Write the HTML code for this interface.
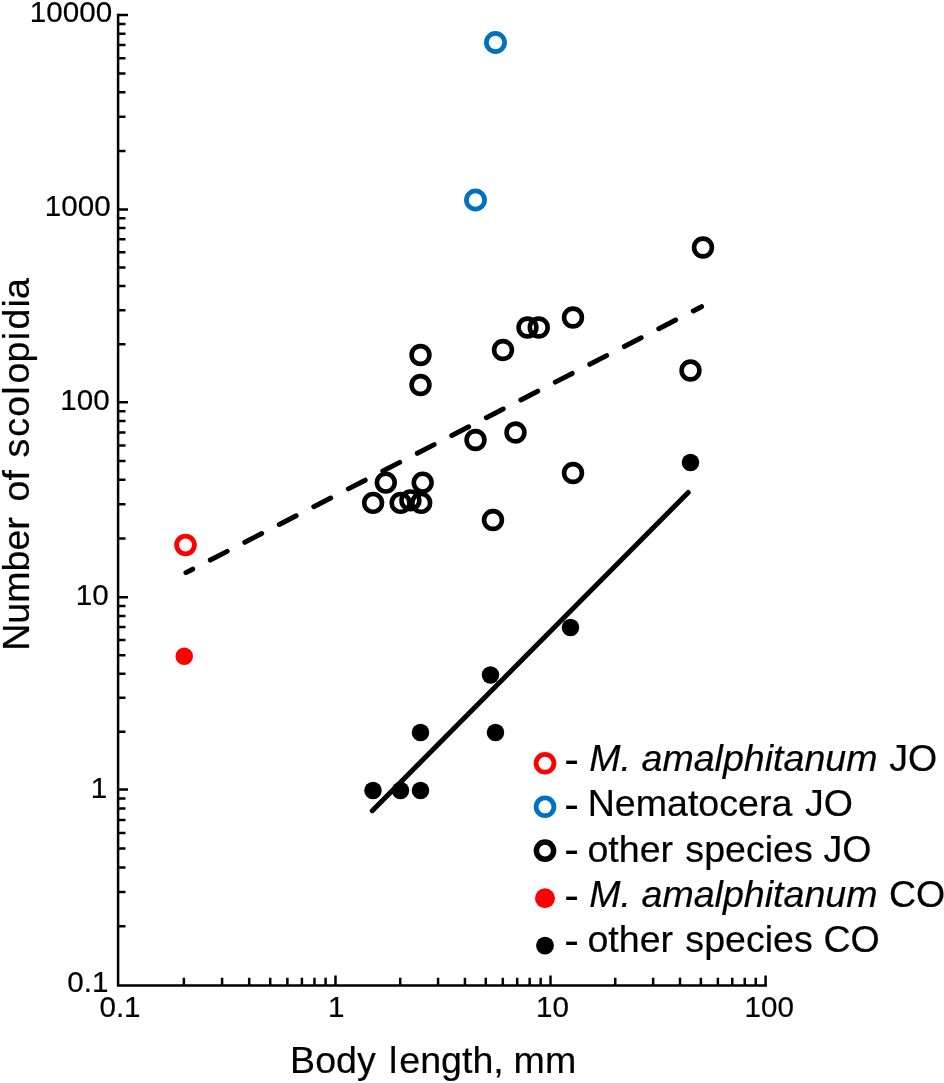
<!DOCTYPE html>
<html lang="en"><head><meta charset="utf-8"><title>Number of scolopidia vs body length</title>
<style>html,body{margin:0;padding:0;background:#fff}svg{display:block;will-change:transform}text{font-family:"Liberation Sans",Arial,Helvetica,sans-serif;fill:#000;stroke:#000;stroke-width:0.2;stroke-linejoin:round}.it{font-style:italic}</style></head><body>
<svg width="944" height="1083" viewBox="0 0 944 1083">
<rect width="944" height="1083" fill="#fff"/>
<g stroke="#000" stroke-width="2.5" fill="none">
<path d="M118.1 13.75V985.6H766.9"/>
<path d="M118.1 926.32h7.4M118.1 891.88h7.4M118.1 867.44h7.4M118.1 848.48h7.4M118.1 832.99h7.4M118.1 819.90h7.4M118.1 808.56h7.4M118.1 798.55h7.4M118.1 789.60h9.9M118.1 731.71h7.4M118.1 697.85h7.4M118.1 673.82h7.4M118.1 655.19h7.4M118.1 639.96h7.4M118.1 627.09h7.4M118.1 615.94h7.4M118.1 606.10h7.4M118.1 597.30h9.9M118.1 538.57h7.4M118.1 504.21h7.4M118.1 479.84h7.4M118.1 460.93h7.4M118.1 445.48h7.4M118.1 432.42h7.4M118.1 421.11h7.4M118.1 411.13h7.4M118.1 402.20h9.9M118.1 344.16h7.4M118.1 310.21h7.4M118.1 286.12h7.4M118.1 267.44h7.4M118.1 252.17h7.4M118.1 239.27h7.4M118.1 228.08h7.4M118.1 218.22h7.4M118.1 209.40h9.9M118.1 150.88h7.4M118.1 116.65h7.4M118.1 92.36h7.4M118.1 73.52h7.4M118.1 58.13h7.4M118.1 45.11h7.4M118.1 33.84h7.4M118.1 23.90h7.4M118.1 15.00h9.9M183.89 985.6v-7.8M222.09 985.6v-7.8M249.19 985.6v-7.8M270.21 985.6v-7.8M287.38 985.6v-7.8M301.90 985.6v-7.8M314.48 985.6v-7.8M325.58 985.6v-7.8M335.50 985.6v-10M400.22 985.6v-7.8M438.08 985.6v-7.8M464.94 985.6v-7.8M485.78 985.6v-7.8M502.80 985.6v-7.8M517.20 985.6v-7.8M529.66 985.6v-7.8M540.66 985.6v-7.8M550.50 985.6v-10M615.25 985.6v-7.8M653.13 985.6v-7.8M680.00 985.6v-7.8M700.85 985.6v-7.8M717.88 985.6v-7.8M732.28 985.6v-7.8M744.75 985.6v-7.8M755.76 985.6v-7.8M765.60 985.6v-10"/>
</g>
<g font-size="29.6">
<text x="29.8" y="22.0">10000</text>
<text x="44.75" y="215.5">1000</text>
<text x="60.25" y="409.5">100</text>
<text x="75.75" y="604.5">10</text>
<text x="90.75" y="797.5">1</text>
<text x="67.35" y="992.0">0.1</text>
<text x="99.45" y="1016.6">0.1</text>
<text x="328.1" y="1016.6">1</text>
<text x="535.95" y="1016.6">10</text>
<text x="744.55" y="1016.6">100</text>
</g>
<text font-size="37.6" y="1072.8"><tspan x="290.10">Body</tspan> <tspan x="388.93">l</tspan><tspan x="399.30">ength,</tspan> <tspan x="513.60">mm</tspan></text>
<text font-size="37.6" transform="translate(29.0 650) rotate(-90)" y="0"><tspan x="-0.80">Number</tspan> <tspan x="148.50">of</tspan> <tspan x="192.40">s</tspan><tspan x="213.30">c</tspan><tspan x="233.30">o</tspan><tspan x="255.20">l</tspan><tspan x="266.40">o</tspan><tspan x="287.60">p</tspan><tspan x="309.70">i</tspan><tspan x="320.40">d</tspan><tspan x="342.60">i</tspan><tspan x="351.00">a</tspan></text>
<g stroke="#000" stroke-width="5" stroke-linecap="round" fill="none">
<path d="M372.3 810.7L688.2 492.5"/>
<path d="M185.97 572.63L192.68 569.17M210.32 560.07L227.18 551.37M244.82 542.27L261.68 533.58M279.32 524.48L296.18 515.78M313.82 506.68L330.68 497.99M348.32 488.89L365.18 480.19M382.82 471.09L399.68 462.40M417.32 453.30L434.18 444.60M451.82 435.50L468.68 426.81M486.32 417.71L503.18 409.01M520.82 399.91L537.68 391.22M555.32 382.12L572.18 373.42M589.82 364.32L606.68 355.63M624.32 346.53L641.18 337.83M658.82 328.73L675.68 320.04M693.32 310.94L701.53 306.70"/>
</g>
<g fill="none" stroke="#000" stroke-width="4.6">
<circle cx="420.5" cy="355" r="8.9"/>
<circle cx="420.5" cy="385" r="8.9"/>
<circle cx="503" cy="350" r="8.9"/>
<circle cx="527.5" cy="327.5" r="8.9"/>
<circle cx="538.75" cy="327.5" r="8.9"/>
<circle cx="573" cy="317.5" r="8.9"/>
<circle cx="475.5" cy="440" r="8.9"/>
<circle cx="515.5" cy="432.5" r="8.9"/>
<circle cx="573" cy="473" r="8.9"/>
<circle cx="373.1" cy="502.9" r="8.9"/>
<circle cx="385.8" cy="482.6" r="8.9"/>
<circle cx="400.6" cy="502.9" r="8.9"/>
<circle cx="410.4" cy="500.4" r="8.9"/>
<circle cx="421.2" cy="502.9" r="8.9"/>
<circle cx="422.7" cy="482.6" r="8.9"/>
<circle cx="703" cy="247.5" r="8.9"/>
<circle cx="690.5" cy="370.5" r="8.9"/>
<circle cx="493" cy="520" r="8.9"/>
</g>
<g fill="none" stroke="#0070c0" stroke-width="4.7">
<circle cx="495.5" cy="42.5" r="9.1"/>
<circle cx="475.5" cy="200" r="9.1"/>
</g>
<circle cx="185.5" cy="545" r="8.9" fill="none" stroke="#f00" stroke-width="4.8"/>
<circle cx="184.25" cy="656.25" r="8.75" fill="#f00"/>
<g fill="#000">
<circle cx="373" cy="790.5" r="8.75"/>
<circle cx="400.5" cy="790.5" r="8.75"/>
<circle cx="420.5" cy="790.5" r="8.75"/>
<circle cx="420.5" cy="732.5" r="8.75"/>
<circle cx="495.5" cy="732.5" r="8.75"/>
<circle cx="490.5" cy="675" r="8.75"/>
<circle cx="570.5" cy="627.5" r="8.75"/>
<circle cx="690.5" cy="462.5" r="8.75"/>
</g>
<circle cx="545" cy="763.3" r="8.9" fill="none" stroke="#f00" stroke-width="4.8"/>
<circle cx="545" cy="806.8" r="8.9" fill="none" stroke="#0070c0" stroke-width="4.8"/>
<circle cx="545" cy="850.7" r="8.6" fill="none" stroke="#000" stroke-width="5.5"/>
<circle cx="545" cy="898.3" r="10" fill="#f00"/>
<circle cx="545" cy="945.6" r="8.9" fill="#000"/>
<g font-size="36.3" transform="scale(1.035 1)">
<text transform="translate(0 773.0) scale(1.17 1.1)" y="0"><tspan x="465.98">-</tspan></text>
<text y="771.2"><tspan x="569.28" class="it">M.</tspan> <tspan x="619.83" class="it">amalphitanum</tspan> <tspan x="859.11">JO</tspan></text>
<text transform="translate(0 818.1999999999999) scale(1.17 1.1)" y="0"><tspan x="465.98">-</tspan></text>
<text y="816.4"><tspan x="567.82">Nematocera</tspan> <tspan x="777.86">JO</tspan></text>
<text transform="translate(0 863.4) scale(1.17 1.1)" y="0"><tspan x="465.98">-</tspan></text>
<text y="861.6"><tspan x="567.58">other</tspan> <tspan x="662.19">species</tspan> <tspan x="795.73">JO</tspan></text>
<text transform="translate(0 908.5999999999999) scale(1.17 1.1)" y="0"><tspan x="465.98">-</tspan></text>
<text y="906.8"><tspan x="569.28" class="it">M.</tspan> <tspan x="619.83" class="it">amalphitanum</tspan> <tspan x="858.93">CO</tspan></text>
<text transform="translate(0 953.8) scale(1.17 1.1)" y="0"><tspan x="465.98">-</tspan></text>
<text y="952.0"><tspan x="567.58">other</tspan> <tspan x="662.19">species</tspan> <tspan x="795.54">CO</tspan></text>
</g>
</svg></body></html>
